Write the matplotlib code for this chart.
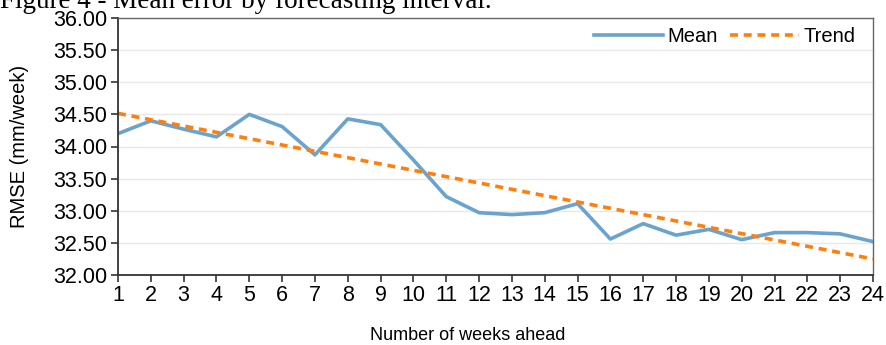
import numpy as np
import matplotlib.pyplot as plt

# Datos: RMSE medio por número de semanas de anticipación
semanas = list(range(1, 25))
rmse_medio = [34.20, 34.40, 34.27, 34.15, 34.50, 34.31, 33.87, 34.43, 34.34, 33.79,
              33.22, 32.97, 32.94, 32.97, 33.11, 32.56, 32.80, 32.62, 32.71, 32.55,
              32.66, 32.66, 32.64, 32.52]
yticks = [32.0, 32.5, 33.0, 33.5, 34.0, 34.5, 35.0, 35.5, 36.0]

# Tendencia lineal (ajuste por mínimos cuadrados)
pend, inter = np.polyfit(semanas, rmse_medio, 1)
tendencia = [pend * s + inter for s in semanas]

plt.rcParams['font.family'] = ['Liberation Sans', 'DejaVu Sans']

fig = plt.figure(figsize=(8.86, 3.45), dpi=100)
ax = fig.add_axes([118 / 886, 1 - 275 / 345, (873 - 118) / 886, (275 - 18) / 345])

ax.plot(semanas, rmse_medio, color='#6aa3cd', lw=2.6, label='Mean', solid_joinstyle='round')
ax.plot(semanas, tendencia, color='#ff7f0e', lw=2.6, ls=(0, (2.2, 1.6)), label='Trend')

ax.set_xlim(1, 24)
ax.set_ylim(32, 36)
ax.set_xticks(semanas)
ax.set_yticks(yticks)
ax.set_yticklabels([f'{v:.2f}' for v in yticks])
ax.tick_params(labelsize=15.5, length=5, width=1.2, color='#333333', pad=2)
ax.tick_params(axis='y', pad=3)
ax.grid(axis='y', color='#e8e8e8', lw=1)
ax.set_axisbelow(True)
for lado in ['left', 'bottom']:
    ax.spines[lado].set_color('#333333')
    ax.spines[lado].set_linewidth(1.3)
for lado in ['top', 'right']:
    ax.spines[lado].set_color('#666666')
    ax.spines[lado].set_linewidth(1.0)

ax.set_xlabel('Number of weeks ahead', fontsize=13)
ax.xaxis.set_label_coords((468 - 118) / 755, -(336 - 275) / 257, transform=ax.transAxes)
ax.xaxis.label.set_va('center')
ax.set_ylabel('RMSE (mm/week)', fontsize=14.5)
ax.yaxis.set_label_coords(-(118 - 20) / 755, 0.5, transform=ax.transAxes)
ax.yaxis.label.set_va('center')

ax.legend(loc='upper right', bbox_to_anchor=(0.989, 1.0), ncol=2, frameon=False,
          fontsize=14.5, handlelength=3.4, columnspacing=0.6, handletextpad=0.25,
          borderaxespad=0.05)

fig.text(0.0, 1 - 8.5 / 345, 'Figure 4 - Mean error by forecasting interval.', family='Liberation Serif',
         fontsize=19.5, va='baseline', ha='left')

fig.savefig('out.png', dpi=100)
